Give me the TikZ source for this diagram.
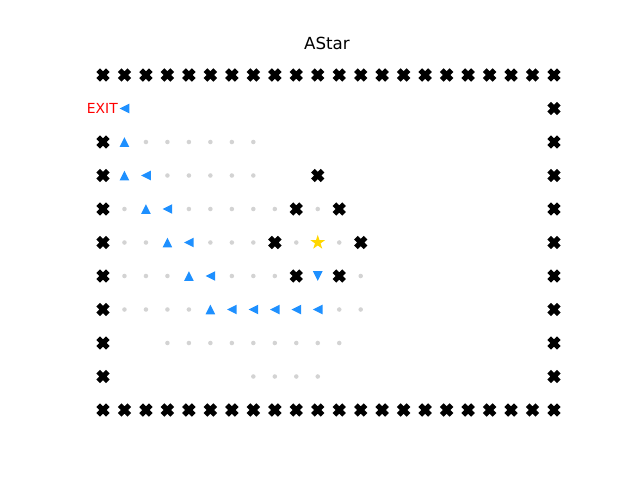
\documentclass[tikz,border=0pt]{standalone}
\usepackage{fontspec}
\setmainfont{DejaVu Sans}
\usetikzlibrary{shapes.geometric}
\definecolor{mblue}{HTML}{1E90FF}
\definecolor{mgold}{HTML}{FFD700}
\definecolor{mgray}{HTML}{D3D3D3}
\begin{document}
\begin{tikzpicture}[x=0.75pt,y=-0.75pt,
  cell/.style={inner sep=0pt, minimum size=13.5pt, draw=none},
  wall/.style={cell, path picture={\fill[black,shift={(path picture bounding box.center)}]
     (3.0,6.7) -- (6.7,3.0) -- (-3.0,-6.7) -- (-6.7,-3.0) -- cycle
     (-3.0,6.7) -- (6.7,-3.0) -- (3.0,-6.7) -- (-6.7,3.0) -- cycle;}},
  upt/.style={cell, path picture={\fill[mblue,shift={(path picture bounding box.center)}] (0,-4.8) -- (4.8,4.8) -- (-4.8,4.8) -- cycle;}},
  leftt/.style={cell, path picture={\fill[mblue,shift={(path picture bounding box.center)}] (-4.8,0) -- (4.8,-4.8) -- (4.8,4.8) -- cycle;}},
  downt/.style={cell, path picture={\fill[mblue,shift={(path picture bounding box.center)}] (0,4.8) -- (4.8,-4.8) -- (-4.8,-4.8) -- cycle;}},
  dot/.style={circle, fill=mgray, inner sep=0pt, minimum size=3.4pt, draw=none},
  goal/.style={star, star points=5, star point ratio=2.618, fill=mgold, draw=none, inner sep=0pt, minimum size=11.5pt},
  title/.style={font=\fontsize{12.5pt}{15pt}\selectfont, text=black},
  exitlabel/.style={font=\fontsize{10.4pt}{12pt}\selectfont, text=red, inner sep=0pt}
]
\useasboundingbox (0,0) rectangle (640,480);
\def\cx#1{{103+21.476*(#1)}}
\def\cy#1{{75+33.5*(#1)}}
% title
\node[title] (ttl) at (327,43) {AStar};
% walls: top and bottom rows
\foreach \i in {0,...,21} {
  \node[wall] (wt-\i) at (\cx{\i},\cy{0}) {};
  \node[wall] (wb-\i) at (\cx{\i},\cy{10}) {};
}
% right column
\foreach \j in {1,...,9} { \node[wall] (wr-\j) at (\cx{21},\cy{\j}) {}; }
% left column
\foreach \j in {2,...,9} { \node[wall] (wl-\j) at (\cx{0},\cy{\j}) {}; }
% inner walls
\foreach \i/\j in {10/3,9/4,11/4,8/5,12/5,9/6,11/6} { \node[wall] (wi-\i-\j) at (\cx{\i},\cy{\j}) {}; }
% explored dots
\foreach \i/\j in {2/2,3/2,4/2,5/2,6/2,7/2,
  3/3,4/3,5/3,6/3,7/3,
  1/4,4/4,5/4,6/4,7/4,8/4,10/4,
  1/5,2/5,5/5,6/5,7/5,9/5,11/5,
  1/6,2/6,3/6,6/6,7/6,8/6,12/6,
  1/7,2/7,3/7,4/7,11/7,12/7,
  3/8,4/8,5/8,6/8,7/8,8/8,9/8,10/8,11/8,
  7/9,8/9,9/9,10/9} {
  \node[dot] (d-\i-\j) at (\cx{\i},\cy{\j}) {};
}
% path arrows
\foreach \i/\j in {1/2,1/3,2/4,3/5,4/6,5/7} { \node[upt] (u-\i-\j) at (\cx{\i},\cy{\j}) {}; }
\foreach \i/\j in {1/1,2/3,3/4,4/5,5/6,6/7,7/7,8/7,9/7,10/7} { \node[leftt] (l-\i-\j) at (\cx{\i},\cy{\j}) {}; }
\node[downt] (dn-10-6) at (\cx{10},\cy{6}) {};
% start star
\node[goal] (start) at (\cx{10},\cy{5}) {};
% exit label
\node[exitlabel, anchor=east] (exit) at (118,108) {EXIT};
\end{tikzpicture}
\end{document}
